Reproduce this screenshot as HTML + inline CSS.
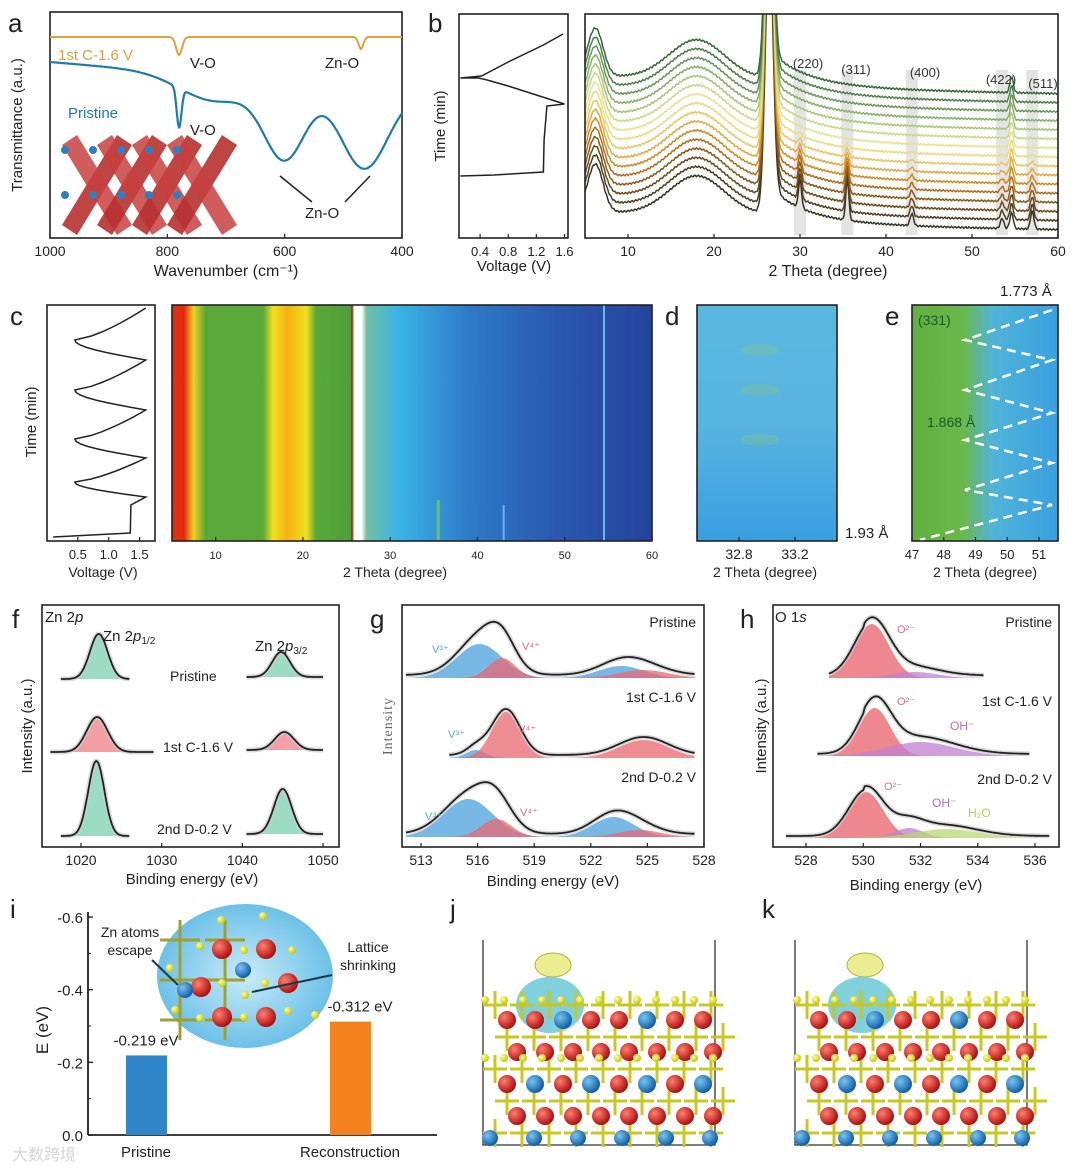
<!DOCTYPE html>
<html><head><meta charset="utf-8"><style>
html,body{margin:0;padding:0;background:#fff}
svg{display:block;font-family:"Liberation Sans",Arial,sans-serif}
</style></head><body>
<svg id="fig" width="1080" height="1171" viewBox="0 0 1080 1171" xmlns="http://www.w3.org/2000/svg">
<defs>
<linearGradient id="heat" x1="0" x2="1" y1="0" y2="0">
<stop offset="0" stop-color="#e03010"/><stop offset="0.025" stop-color="#e02a10"/><stop offset="0.045" stop-color="#f0d020"/><stop offset="0.07" stop-color="#5aa83a"/>
<stop offset="0.19" stop-color="#5aa83a"/><stop offset="0.21" stop-color="#f0e020"/><stop offset="0.24" stop-color="#f5b010"/><stop offset="0.28" stop-color="#f0e020"/><stop offset="0.30" stop-color="#5aa83a"/>
<stop offset="0.372" stop-color="#4ea03a"/><stop offset="0.375" stop-color="#8a2010"/><stop offset="0.38" stop-color="#ffffff"/><stop offset="0.395" stop-color="#ffffff"/><stop offset="0.405" stop-color="#70c0a0"/>
<stop offset="0.47" stop-color="#3ab4e6"/><stop offset="0.62" stop-color="#2e7ac8"/><stop offset="0.80" stop-color="#2a58b0"/><stop offset="1" stop-color="#26439c"/>
</linearGradient>
<linearGradient id="dgrad" x1="0" x2="0" y1="0" y2="1"><stop offset="0" stop-color="#5ab8e0"/><stop offset="0.5" stop-color="#58b4e0"/><stop offset="1" stop-color="#3a9ee0"/></linearGradient>
<linearGradient id="egrad" x1="0" x2="1" y1="0" y2="0"><stop offset="0" stop-color="#62b040"/><stop offset="0.35" stop-color="#6ab84a"/><stop offset="0.55" stop-color="#50b4d8"/><stop offset="1" stop-color="#3aa0e0"/></linearGradient>
<radialGradient id="bubble" cx="0.5" cy="0.5" r="0.5"><stop offset="0" stop-color="#c8ecf8"/><stop offset="1" stop-color="#6cc0e8"/></radialGradient>
<radialGradient id="red" cx="0.35" cy="0.35" r="0.65"><stop offset="0" stop-color="#ff8070"/><stop offset="1" stop-color="#b01010"/></radialGradient>
<radialGradient id="blue" cx="0.35" cy="0.35" r="0.65"><stop offset="0" stop-color="#7cc4f0"/><stop offset="1" stop-color="#1060a8"/></radialGradient>
<radialGradient id="yel" cx="0.35" cy="0.35" r="0.65"><stop offset="0" stop-color="#ffffa0"/><stop offset="1" stop-color="#c8c810"/></radialGradient>
</defs>
<g id="root"></g>
</svg>
<script>
// ---------- data ----------
const barCategories = ["Pristine", "Reconstruction"];
const barValues = [-0.219, -0.312];
const barLabels = ["-0.219 eV", "-0.312 eV"];
const barColors = ["#2e86c8", "#f5821f"];
const iTicks = [0.0, -0.2, -0.4, -0.6];
const iTickLabels = ["0.0", "-0.2", "-0.4", "-0.6"];

const ftirTicks = [1000, 800, 600, 400];
const ftirOrangeDips = [[780, 5, 18], [470, 4, 12]];
const ftirBlueDips = [[780, 4, 40], [600, 35, 75], [465, 40, 80], [720, 60, 25]];

const xrdTicks = [10, 20, 30, 40, 50, 60];
const xrdCount = 16;
const xrdPeakLabels = ["(220)", "(311)", "(400)", "(422)", "(511)"];
const xrdPeakPos = [30, 35.5, 43, 53.5, 57];
const cTicks = [10, 20, 30, 40, 50, 60];
const cVoltage = [0.1, 1.35, 1.36, 1.6, 0.45, 1.6, 0.45, 1.6, 0.45, 1.6, 0.45, 1.6];
const cTime = [537, 533, 505, 497, 482, 458, 439, 410, 390, 360, 340, 308];

const fTicks = [1020, 1030, 1040, 1050];
const fSamples = ["Pristine", "1st C-1.6 V", "2nd D-0.2 V"];
const fPeak1 = [[1022.2, 1.1, 45], [1022.0, 1.3, 35], [1021.9, 1.0, 75]];
const fPeak2 = [[1044.8, 1.1, 25], [1045.2, 1.2, 18], [1045.0, 1.1, 45]];
const fColors = ["#7cd0b0", "#ee8088", "#7cd0b0"];

const gTicks = [513, 516, 519, 522, 525, 528];
const gV3 = [[516.1, 1.2, 34, 523.6, 1.2, 12], [515.9, 0.5, 8, 523.5, 1, 0], [515.5, 1.3, 38, 523.2, 1.1, 20]];
const gV4 = [[517.3, 0.7, 20, 524.8, 1.3, 8], [517.5, 0.75, 46, 524.8, 1.3, 18], [517.0, 0.8, 18, 524.6, 1.1, 7]];

const hTicks = [528, 530, 532, 534, 536];
const hO2 = [[530.3, 0.6, 54], [530.4, 0.55, 48], [530.1, 0.6, 46]];
const hOH = [[531.8, 0.8, 6], [532.0, 1.2, 14], [531.6, 0.5, 10]];
const hH2O = [[0, 1, 0], [0, 1, 0], [532.9, 1.1, 9]];

// ---------- helpers ----------
const NS = "http://www.w3.org/2000/svg";
const root = document.getElementById("root");
function el(tag, attrs, parent, name) {
  const e = document.createElementNS(NS, tag);
  for (const k in attrs) e.setAttribute(k, attrs[k]);
  
  
  (parent || root).appendChild(e);
  return e;
}
function txt(x, y, s, size, parent, name, extra) {
  const a = {x: x, y: y, "font-size": size, fill: "#222"};
  if (extra) for (const k in extra) a[k] = extra[k];
  const t = el("text", a, parent, name);
  t.textContent = s;
  return t;
}
function box(x1, y1, x2, y2, name) {
  el("rect", {x: x1, y: y1, width: x2 - x1, height: y2 - y1, fill: "none", stroke: "#222", "stroke-width": 1.6}, root, name);
}
function gauss(x, c, w, h) { return h * Math.exp(-0.5 * ((x - c) / w) * ((x - c) / w)); }
function pathFrom(pts) { return "M" + pts.map(p => p[0].toFixed(1) + "," + p[1].toFixed(1)).join("L"); }
function xticks(scale, ticks, y, labels, name, size) {
  ticks.forEach((t, i) => {
    const x = scale(t);
    el("line", {x1: x, x2: x, y1: y, y2: y - 4, stroke: "#222", "stroke-width": 1.2}, root, name + "-tick");
    txt(x, y + 18, labels ? labels[i] : String(t), size || 14, root, name + "-label", {"text-anchor": "middle"});
  });
}

// ---------- panel a ----------
(function () {
  const X0 = 50, X1 = 402, Y0 = 12, Y1 = 238;
  const sx = w => X0 + (1000 - w) / 600 * (X1 - X0);
  box(X0, Y0, X1, Y1, "ftir-plot-frame");
  txt(8, 32, "a", 26, root, "panel-label-a");
  const po = [], pb = [];
  for (let w = 1000; w >= 400; w -= 2) {
    let yo = 37; ftirOrangeDips.forEach(d => yo += gauss(w, d[0], d[1], d[2]));
    po.push([sx(w), yo]);
    let yb = 62 + (1000 - w) * 0.05; ftirBlueDips.forEach(d => yb += gauss(w, d[0], d[1], d[2]));
    pb.push([sx(w), yb]);
  }
  el("path", {d: pathFrom(po), fill: "none", stroke: "#e0a040", "stroke-width": 2}, root, "ftir-cycled-line");
  el("path", {d: pathFrom(pb), fill: "none", stroke: "#1e7ca8", "stroke-width": 2.2}, root, "ftir-pristine-line");
  txt(58, 60, "1st C-1.6 V", 15, root, "ftir-cycled-label", {fill: "#e0a040"});
  txt(68, 118, "Pristine", 15, root, "ftir-pristine-label", {fill: "#1e7ca8"});
  txt(190, 68, "V-O", 15, root, "vo-label-top");
  txt(190, 135, "V-O", 15, root, "vo-label-bottom");
  txt(325, 68, "Zn-O", 15, root, "zno-label-top");
  txt(305, 218, "Zn-O", 15, root, "zno-label-bottom");
  el("path", {d: "M312,202L280,176", stroke: "#222", "stroke-width": 1.5, fill: "none"}, root, "zno-arrow-left");
  el("path", {d: "M345,202L370,176", stroke: "#222", "stroke-width": 1.5, fill: "none"}, root, "zno-arrow-right");
  const g = el("g", {}, root, "crystal-inset");
  for (let i = 0; i < 4; i++) {
    el("path", {d: `M${62 + i * 35},225L${117 + i * 35},135L${132 + i * 35},145L${77 + i * 35},235Z`, fill: "#b83030", opacity: 0.9}, g, "octahedron-chain");
    el("path", {d: `M${62 + i * 35},145L${77 + i * 35},135L${132 + i * 35},225L${117 + i * 35},235Z`, fill: "#c84040", opacity: 0.85}, g, "octahedron-chain");
  }
  for (let i = 0; i < 10; i++) el("circle", {cx: 65 + (i % 5) * 28, cy: 150 + Math.floor(i / 5) * 45, r: 4, fill: "#2a80c0"}, g, "zn-atom");
  txt(-125, 22, "Transmittance (a.u.)", 15, root, "ftir-y-title", {transform: "rotate(-90)", "text-anchor": "middle"});
  xticks(sx, ftirTicks, Y1, null, "ftir-x");
  txt(226, 276, "Wavenumber (cm⁻¹)", 16, root, "ftir-x-title", {"text-anchor": "middle"});
})();

// ---------- panel b ----------
(function () {
  txt(428, 32, "b", 26, root, "panel-label-b");
  box(459, 14, 568, 238, "operando-voltage-frame");
  const vx = v => 459 + (v - 0.1) / 1.55 * 109;
  el("path", {d: `M${vx(0.12)},176L${vx(0.6)},175L${vx(1.3)},172L${vx(1.31)},140L${vx(1.35)},106L${vx(1.6)},104L${vx(0.8)},86L${vx(0.5)},80L${vx(0.38)},78L${vx(0.12)},78L${vx(0.42)},76L${vx(0.8)},62L${vx(1.3)},45L${vx(1.58)},34`, fill: "none", stroke: "#222", "stroke-width": 1.5}, root, "voltage-curve-b");
  txt(-126, 445, "Time (min)", 15, root, "time-title-b", {transform: "rotate(-90)", "text-anchor": "middle"});
  xticks(vx, [0.4, 0.8, 1.2, 1.6], 238, ["0.4", "0.8", "1.2", "1.6"], "voltage-b-x", 13);
  txt(514, 271, "Voltage (V)", 15, root, "voltage-b-title", {"text-anchor": "middle"});

  const X0 = 585, X1 = 1058, Y0 = 14, Y1 = 238;
  const sx = t => X0 + (t - 5) / 55 * (X1 - X0);
  const clip = el("clipPath", {id: "xrdclip"}, root, "xrd-clip");
  el("rect", {x: X0, y: Y0, width: X1 - X0, height: Y1 - Y0}, clip, "xrd-clip-rect");
  xrdPeakPos.forEach(p => el("rect", {x: sx(p) - 6, y: 70, width: 12, height: 165, fill: "#e4e4e4"}, root, "xrd-peak-band"));
  const g = el("g", {"clip-path": "url(#xrdclip)"}, root, "xrd-lines");
  const cols = ["#3a3424", "#4c3e22", "#6a4a1e", "#8a5a1a", "#b06c18", "#d08a20", "#e0aa40", "#e8c860", "#ecdc80", "#e6e490", "#c8da88", "#a8c878", "#88b068", "#6a985a", "#4e804a", "#36683a"];
  for (let k = 0; k < xrdCount; k++) {
    const base = 204 - k * 9.07;
    const f = Math.max(0, 1 - k / 9);
    const pts = [];
    for (let t = 5; t <= 60; t += 0.12) {
      let h = gauss(t, 6.2, 0.9, 48) + 10 + gauss(t, 18, 3.2, 38) + gauss(t, 26.4, 0.45, 260);
      if (t < 6.2) h = Math.max(h, 30 + (t - 5) * 15);
      if (t > 26.4) h += 28 * Math.exp(-(t - 26.4) / 4) - 10 * (1 - Math.exp(-(t - 26.4) / 8));
      h += f * (gauss(t, 30, 0.18, 28) + gauss(t, 35.5, 0.18, 40) + gauss(t, 43, 0.2, 12) + gauss(t, 53.5, 0.2, 10) + gauss(t, 57, 0.2, 18));
      h += gauss(t, 54.6, 0.2, 16);
      h -= (t - 5) * 0.14;
      h += Math.sin(t * 37 + k) * 0.8;
      pts.push([sx(t), base - h + 18]);
    }
    el("path", {d: pathFrom(pts), fill: "none", stroke: cols[k], "stroke-width": 1.5}, g, "xrd-pattern-" + k);
  }
  box(X0, Y0, X1, Y1, "xrd-plot-frame");
  const lx = [808, 856, 925, 1001, 1043];
  xrdPeakLabels.forEach((s, i) => txt(lx[i], [68, 74, 77, 84, 88][i], s, 13, root, "xrd-peak-label", {"text-anchor": "middle", fill: "#333"}));
  xticks(sx, xrdTicks, Y1, null, "xrd-x");
  txt(828, 276, "2 Theta (degree)", 16, root, "xrd-x-title", {"text-anchor": "middle"});
})();

// ---------- panels c, d, e ----------
(function () {
  txt(10, 325, "c", 26, root, "panel-label-c");
  box(47, 305, 155, 541, "cycling-voltage-frame");
  const vx = v => 47 + v / 1.75 * 108;
  const pts = [];
  for (let i = 0; i < cVoltage.length; i++) {
    if (i > 3) {
      // curved segment between extrema
      const v0 = cVoltage[i - 1], v1 = cVoltage[i], t0 = cTime[i - 1], t1 = cTime[i];
      for (let s = 1; s <= 8; s++) {
        const u = s / 8;
        const vu = v0 + (v1 - v0) * (v1 > v0 ? Math.pow(u, 0.7) : Math.sin(u * Math.PI / 2));
        pts.push([vx(vu), t0 + (t1 - t0) * u]);
      }
    } else pts.push([vx(cVoltage[i]), cTime[i]]);
  }
  el("path", {d: pathFrom(pts), fill: "none", stroke: "#222", "stroke-width": 1.5}, root, "voltage-curve-c");
  txt(-422, 36, "Time (min)", 15, root, "time-title-c", {transform: "rotate(-90)", "text-anchor": "middle"});
  xticks(vx, [0.5, 1.0, 1.5], 541, ["0.5", "1.0", "1.5"], "voltage-c-x", 13);
  txt(103, 577, "Voltage (V)", 14, root, "voltage-c-title", {"text-anchor": "middle"});

  const X0 = 172, X1 = 652, Y0 = 305, Y1 = 541;
  const sx = t => X0 + (t - 5) / 55 * (X1 - X0);
  el("rect", {x: X0, y: Y0, width: X1 - X0, height: Y1 - Y0, fill: "url(#heat)"}, root, "contour-heatmap");
  el("rect", {x: sx(54.5) - 1, y: Y0, width: 2, height: Y1 - Y0, fill: "#6ab8f0"}, root, "contour-streak");
  el("rect", {x: sx(35.5) - 1.5, y: 500, width: 3, height: 40, fill: "#6ac070"}, root, "contour-spot");
  el("rect", {x: sx(43) - 1, y: 505, width: 2, height: 35, fill: "#60b8f0"}, root, "contour-spot");
  box(X0, Y0, X1, Y1, "contour-frame");
  xticks(sx, cTicks, Y1, null, "contour-x", 11);
  txt(395, 577, "2 Theta (degree)", 14, root, "contour-x-title", {"text-anchor": "middle"});

  txt(665, 325, "d", 26, root, "panel-label-d");
  el("rect", {x: 697, y: 305, width: 140, height: 236, fill: "url(#dgrad)"}, root, "zoom-map-d");
  [350, 390, 440].forEach(y => el("ellipse", {cx: 760, cy: y, rx: 20, ry: 6, fill: "#80c490", opacity: 0.4}, root, "d-spot"));
  box(697, 305, 837, 541, "zoom-map-d-frame");
  const dx = t => 697 + (t - 32.5) / 1.0 * 140;
  xticks(dx, [32.8, 33.2], 541, ["32.8", "33.2"], "d-x", 14);
  txt(765, 577, "2 Theta (degree)", 14, root, "d-x-title", {"text-anchor": "middle"});

  txt(885, 325, "e", 26, root, "panel-label-e");
  el("rect", {x: 912, y: 305, width: 146, height: 236, fill: "url(#egrad)"}, root, "zoom-map-e");
  el("path", {d: "M1052,310L965,340L1052,360L965,390L1052,413L965,440L1052,463L965,490L1052,505L920,540", fill: "none", stroke: "#fff", "stroke-width": 2.5, "stroke-dasharray": "9,6"}, root, "e-zigzag");
  box(912, 305, 1058, 541, "zoom-map-e-frame");
  txt(918, 325, "(331)", 14, root, "e-peak-label", {fill: "#1a5a2a"});
  txt(927, 427, "1.868 Å", 14, root, "e-d-spacing-mid", {fill: "#1a5a2a"});
  txt(1000, 296, "1.773 Å", 15, root, "e-d-spacing-top");
  txt(845, 538, "1.93 Å", 15, root, "e-d-spacing-bottom");
  const ex = t => 912 + (t - 47) / 4.6 * 146;
  xticks(ex, [47, 48, 49, 50, 51], 541, null, "e-x", 13);
  txt(985, 577, "2 Theta (degree)", 14, root, "e-x-title", {"text-anchor": "middle"});
})();

// ---------- XPS helper ----------
function spectrum(sx, lo, hi, base, comps, colors, parent, name, extraBg) {
  const tot = [];
  comps.forEach((c, j) => {
    if (!c[2]) return;
    const pts = [];
    for (let e = lo; e <= hi; e += 0.05) pts.push([sx(e), base - gauss(e, c[0], c[1], c[2])]);
    pts.push([sx(hi), base]); pts.push([sx(lo), base]);
    el("path", {d: pathFrom(pts) + "Z", fill: colors[j], opacity: 0.75}, parent, name + "-component");
  });
  for (let e = lo; e <= hi; e += 0.05) {
    let y = 0; comps.forEach(c => y += gauss(e, c[0], c[1], c[2]));
    y += extraBg ? extraBg(e) : 0;
    tot.push([sx(e), base - y]);
  }
  el("path", {d: pathFrom(tot), fill: "none", stroke: "#ccc", "stroke-width": 5, opacity: 0.7}, parent, name + "-raw");
  el("path", {d: pathFrom(tot), fill: "none", stroke: "#222", "stroke-width": 1.8}, parent, name + "-fit");
}

// ---------- panel f ----------
(function () {
  txt(12, 628, "f", 26, root, "panel-label-f");
  const sx = e => 81 + (e - 1020) * 8.07;
  box(42, 605, 339, 847, "zn2p-frame");
  const bases = [679, 752, 836];
  fSamples.forEach((s, i) => {
    spectrum(sx, 1017.5 - (i === 1 ? 1.3 : 0), 1026 + (i === 1 ? 3 : 0), bases[i], [fPeak1[i]], [fColors[i]], root, "zn2p12-" + i);
    spectrum(sx, 1040.5, 1050, bases[i] - 2, [fPeak2[i]], [fColors[i]], root, "zn2p32-" + i);
  });
  txt(170, 681, "Pristine", 14, root, "zn-label-pristine");
  txt(163, 752, "1st C-1.6 V", 14, root, "zn-label-c16");
  txt(157, 834, "2nd D-0.2 V", 14, root, "zn-label-d02");
  txt(45, 622, "", 15, root, "zn2p-title").innerHTML = 'Zn 2<tspan font-style="italic">p</tspan>';
  txt(103, 641, "", 15, root, "zn2p12-title").innerHTML = 'Zn 2<tspan font-style="italic">p</tspan><tspan font-size="10" dy="3">1/2</tspan>';
  txt(255, 651, "", 15, root, "zn2p32-title").innerHTML = 'Zn 2<tspan font-style="italic">p</tspan><tspan font-size="10" dy="3">3/2</tspan>';
  txt(-726, 32, "Intensity (a.u.)", 15, root, "f-y-title", {transform: "rotate(-90)", "text-anchor": "middle"});
  xticks(sx, fTicks, 847, null, "f-x");
  txt(192, 884, "Binding energy (eV)", 15, root, "f-x-title", {"text-anchor": "middle"});
})();

// ---------- panel g ----------
(function () {
  txt(370, 628, "g", 26, root, "panel-label-g");
  const sx = e => 421 + (e - 513) / 15 * 283;
  box(402, 605, 704, 847, "v2p-frame");
  const bases = [682, 762, 841];
  const starts = [512.2, 514.5, 512.2];
  gV3.forEach((a, i) => {
    const b = gV4[i];
    const comps = [[a[0], a[1], a[2]], [b[0], b[1], b[2]], [a[3], a[4], a[5]], [b[3], b[4], b[5]]];
    spectrum(sx, starts[i], 527.5, bases[i] - 4, comps, ["#4aa0dc", "#e86870", "#4aa0dc", "#e86870"], root, "v2p-" + i, e => gauss(e, 516.8, 1.0, i === 1 ? 0 : 9) + 3);
  });
  txt(696, 627, "Pristine", 14, root, "v-label-pristine", {"text-anchor": "end"});
  txt(696, 702, "1st C-1.6 V", 14, root, "v-label-c16", {"text-anchor": "end"});
  txt(696, 782, "2nd D-0.2 V", 14, root, "v-label-d02", {"text-anchor": "end"});
  [[432, 653], [448, 738], [425, 820]].forEach((p, i) => txt(p[0], p[1], "V³⁺", 11, root, "v3-label-" + i, {fill: "#5ab0c0"}));
  [[522, 650], [518, 733], [520, 816]].forEach((p, i) => txt(p[0], p[1], "V⁴⁺", 11, root, "v4-label-" + i, {fill: "#e07080"}));
  txt(-726, 392, "Intensity", 14, root, "g-y-title", {transform: "rotate(-90)", "text-anchor": "middle", "font-family": "Liberation Serif", fill: "#666", "letter-spacing": "1"});
  xticks(sx, gTicks, 847, null, "g-x");
  txt(553, 886, "Binding energy (eV)", 15, root, "g-x-title", {"text-anchor": "middle"});
})();

// ---------- panel h ----------
(function () {
  txt(740, 628, "h", 26, root, "panel-label-h");
  const sx = e => 806 + (e - 528) / 8 * 229;
  box(773, 605, 1059, 847, "o1s-frame");
  const bases = [682, 760, 842];
  const ranges = [[528.8, 534.2], [528.4, 535.8], [527.3, 536.5]];
  hO2.forEach((o, i) => {
    spectrum(sx, ranges[i][0], ranges[i][1], bases[i] - 4, [o, hOH[i], hH2O[i]], ["#e86068", "#c080d0", "#b8d870"], root, "o1s-" + i, e => 2 + (e > 530 ? 4 * Math.exp(-(e - 531) * (e - 531) / 6) : 0));
  });
  txt(1052, 627, "Pristine", 14, root, "o-label-pristine", {"text-anchor": "end"});
  txt(1052, 706, "1st C-1.6 V", 14, root, "o-label-c16", {"text-anchor": "end"});
  txt(1052, 784, "2nd D-0.2 V", 14, root, "o-label-d02", {"text-anchor": "end"});
  txt(897, 633, "O²⁻", 11, root, "o2-label-0", {fill: "#e07080"});
  txt(897, 705, "O²⁻", 11, root, "o2-label-1", {fill: "#e07080"});
  txt(884, 790, "O²⁻", 11, root, "o2-label-2", {fill: "#e07080"});
  txt(950, 730, "OH⁻", 12, root, "oh-label-1", {fill: "#b070c0"});
  txt(932, 807, "OH⁻", 12, root, "oh-label-2", {fill: "#b070c0"});
  txt(968, 817, "H₂O", 12, root, "h2o-label", {fill: "#b8d050"});
  txt(775, 622, "", 15, root, "o1s-title").innerHTML = 'O 1<tspan font-style="italic">s</tspan>';
  txt(-726, 766, "Intensity (a.u.)", 15, root, "h-y-title", {transform: "rotate(-90)", "text-anchor": "middle"});
  xticks(sx, hTicks, 847, null, "h-x");
  txt(916, 890, "Binding energy (eV)", 15, root, "h-x-title", {"text-anchor": "middle"});
})();

// ---------- panel i ----------
(function () {
  txt(10, 918, "i", 26, root, "panel-label-i");
  const X0 = 88, X1 = 437, Y0 = 1135;
  const sy = v => Y0 + v / 0.6 * (Y0 - 917);
  const cx = [146, 350];
  el("line", {x1: X0, x2: X0, y1: 912, y2: Y0, stroke: "#222", "stroke-width": 1.8}, root, "i-y-axis");
  el("line", {x1: X0, x2: X1, y1: Y0, y2: Y0, stroke: "#222", "stroke-width": 1.8}, root, "i-x-axis");
  iTicks.forEach((t, i) => {
    el("line", {x1: X0, x2: X0 + 5, y1: sy(t), y2: sy(t), stroke: "#222", "stroke-width": 1.4}, root, "i-y-tick");
    txt(X0 - 5, sy(t) + 6, iTickLabels[i], 15, root, "i-y-label", {"text-anchor": "end"});
    if (i < 3) el("line", {x1: X0, x2: X0 + 3, y1: sy(t - 0.1), y2: sy(t - 0.1), stroke: "#222"}, root, "i-y-minor");
  });
  txt(-1030, 48, "E (eV)", 17, root, "i-y-title", {transform: "rotate(-90)", "text-anchor": "middle"});
  barValues.forEach((v, i) => {
    el("rect", {x: cx[i] - 20, y: sy(v), width: 41, height: Y0 - sy(v), fill: barColors[i]}, root, "bar-" + barCategories[i].toLowerCase());
    txt(cx[i] + (i ? 10 : 0), sy(v) - 10, barLabels[i], 15, root, "bar-value-label", {"text-anchor": "middle"});
    txt(cx[i], Y0 + 22, barCategories[i], 15, root, "i-x-label", {"text-anchor": "middle"});
  });
  el("ellipse", {cx: 245, cy: 976, rx: 88, ry: 72, fill: "url(#bubble)"}, root, "inset-bubble");
  const g = el("g", {}, root, "inset-structure");
  [[180, 940], [225, 940], [180, 980], [225, 980], [180, 1020], [225, 1020]].forEach(p => {
    el("line", {x1: p[0], x2: p[0], y1: p[1] - 20, y2: p[1] + 20, stroke: "#a0a030", "stroke-width": 3}, g, "bond");
    el("line", {x1: p[0] - 20, x2: p[0] + 20, y1: p[1], y2: p[1], stroke: "#a0a030", "stroke-width": 3}, g, "bond");
  });
  [[222, 949], [266, 949], [201, 987], [288, 983], [222, 1017], [266, 1017]].forEach(p => el("circle", {cx: p[0], cy: p[1], r: 10, fill: "url(#red)"}, g, "v-atom"));
  [[243, 970], [185, 990]].forEach(p => el("circle", {cx: p[0], cy: p[1], r: 8, fill: "url(#blue)"}, g, "zn-atom"));
  [[221, 920], [263, 916], [200, 946], [244, 950], [292, 950], [170, 968], [222, 983], [265, 983], [200, 1018], [244, 1017], [288, 1011], [315, 1015], [175, 1010], [245, 995]].forEach(p => el("circle", {cx: p[0], cy: p[1], r: 4, fill: "url(#yel)"}, g, "o-atom"));
  txt(130, 937, "Zn atoms", 14, root, "inset-label-zn", {"text-anchor": "middle"});
  txt(130, 955, "escape", 14, root, "inset-label-escape", {"text-anchor": "middle"});
  txt(368, 952, "Lattice", 14, root, "inset-label-lattice", {"text-anchor": "middle"});
  txt(368, 970, "shrinking", 14, root, "inset-label-shrinking", {"text-anchor": "middle"});
  el("path", {d: "M152,960L178,985", stroke: "#1a3a4a", "stroke-width": 2, fill: "none"}, root, "inset-arrow-zn");
  el("path", {d: "M332,975L252,992", stroke: "#1a3a4a", "stroke-width": 2, fill: "none"}, root, "inset-arrow-lattice");
  txt(12, 1160, "大数跨境", 16, root, "watermark", {fill: "#bbb", opacity: 0.6});
})();

// ---------- panels j, k ----------
function structure(x0, label, name) {
  txt(x0 - 30, 918, label, 26, root, "panel-label-" + label);
  const g = el("g", {}, root, name);
  el("path", {d: `M${x0 + 3},940L${x0 + 3},1145L${x0 + 235},1145L${x0 + 235},940`, fill: "none", stroke: "#333", "stroke-width": 1.3}, g, name + "-cell");
  el("ellipse", {cx: x0 + 73, cy: 965, rx: 18, ry: 12, fill: "#ecec90", stroke: "#b0b040"}, g, name + "-yellow-lobe");
  el("ellipse", {cx: x0 + 70, cy: 1005, rx: 34, ry: 28, fill: "#6ac8d8", opacity: 0.85}, g, name + "-charge-lobe");
  for (let r = 0; r < 5; r++) for (let c = 0; c < 9; c++) {
    const x = x0 + 15 + c * 27 + (r % 2) * 12, y = 1005 + r * 32;
    el("line", {x1: x - 12, x2: x + 12, y1: y, y2: y, stroke: "#c8c820", "stroke-width": 3}, g, "bond");
    el("line", {x1: x, x2: x, y1: y - 14, y2: y + 14, stroke: "#c8c820", "stroke-width": 3}, g, "bond");
  }
  for (let r = 0; r < 4; r++) for (let c = 0; c < 8; c++) {
    const blue = (r === 0 && c % 3 === 2) || (r === 2 && c % 2 === 1);
    el("circle", {cx: x0 + 27 + c * 28 + (r % 2) * 10, cy: 1020 + r * 32, r: 9, fill: blue ? "url(#blue)" : "url(#red)"}, g, blue ? "zn-atom" : "v-atom");
  }
  for (let i = 0; i < 6; i++) el("circle", {cx: x0 + 10 + i * 44, cy: 1138, r: 8, fill: "url(#blue)"}, g, "zn-atom-bottom");
  for (let i = 0; i < 26; i++) el("circle", {cx: x0 + 5 + (i % 13) * 19, cy: 1000 + Math.floor(i / 13) * 58, r: 4, fill: "url(#yel)"}, g, "o-atom");
}
structure(480, "j", "structure-j");
structure(792, "k", "structure-k");
</script>
</body></html>
